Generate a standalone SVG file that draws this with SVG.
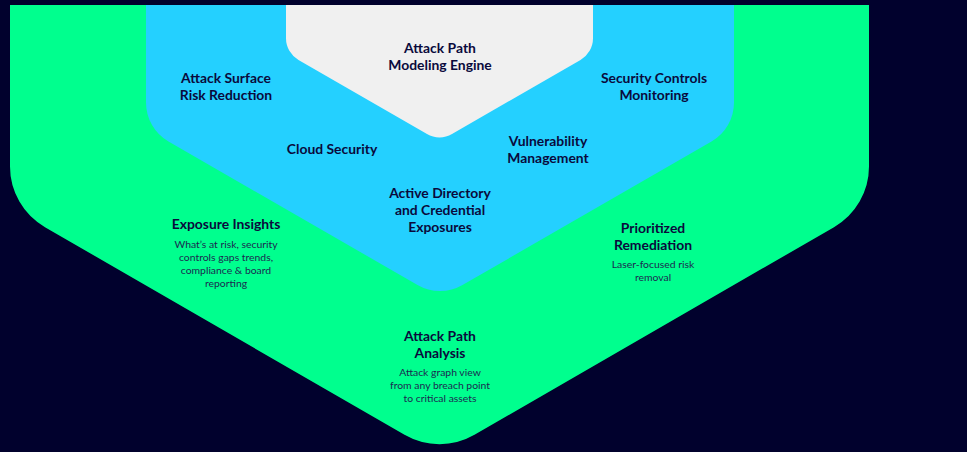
<svg xmlns="http://www.w3.org/2000/svg" width="967" height="452" viewBox="0 0 967 452">
<style>
.t{font-family:Lato,"Liberation Sans",sans-serif;font-weight:bold;font-size:13.9px;fill:#0a0a3c;text-anchor:middle}
.s{font-family:Lato,"Liberation Sans",sans-serif;font-size:10.4px;fill:#1c2a50;text-anchor:middle}
</style>
<rect width="967" height="452" fill="#01012d"/>
<g id="outer">
<path d="M10,5 H869 V166.6 A70 70 0 0 1 834,227.2 L474.5,434.8 A70 70 0 0 1 404.5,434.8 L45,227.2 A70 70 0 0 1 10,166.6 Z" fill="#00ff8e"/>
</g>
<g id="middle">
<path d="M146,5 H734 V102.5 A45 45 0 0 1 711.5,141.5 L462.5,285 A45 45 0 0 1 417.5,285 L168.5,141.5 A45 45 0 0 1 146,102.5 Z" fill="#24d0ff"/>
</g>
<g id="inner">
<path d="M286,5 H593 V38.3 A25 25 0 0 1 580.5,59.9 L452,134.1 A25 25 0 0 1 427,134.1 L298.5,59.9 A25 25 0 0 1 286,38.3 Z" fill="#f0f0f0"/>
</g>
<g id="connectors"></g>
<g id="engine"><text class="t" x="440" y="53">Attack Path</text><text class="t" x="440" y="70">Modeling Engine</text></g>
<g id="asrr"><text class="t" x="226" y="83">Attack Surface</text><text class="t" x="226" y="100">Risk Reduction</text></g>
<g id="scm"><text class="t" x="654" y="83">Security Controls</text><text class="t" x="654" y="100">Monitoring</text></g>
<g id="cloud"><text class="t" x="332" y="154">Cloud Security</text></g>
<g id="vuln"><text class="t" x="548" y="146">Vulnerability</text><text class="t" x="548" y="163">Management</text></g>
<g id="ad"><text class="t" x="440" y="198">Active Directory</text><text class="t" x="440" y="215">and Credential</text><text class="t" x="440" y="232">Exposures</text></g>
<g id="insights"><text class="t" x="226" y="229">Exposure Insights</text>
<text class="s" x="226" y="248">What’s at risk, security</text><text class="s" x="226" y="261">controls gaps trends,</text><text class="s" x="226" y="274">compliance &amp; board</text><text class="s" x="226" y="287">reporting</text></g>
<g id="remediation"><text class="t" x="653" y="233">Prioritized</text><text class="t" x="653" y="250">Remediation</text>
<text class="s" x="653" y="268">Laser-focused risk</text><text class="s" x="653" y="281">removal</text></g>
<g id="analysis"><text class="t" x="440" y="341">Attack Path</text><text class="t" x="440" y="358">Analysis</text>
<text class="s" x="440" y="376">Attack graph view</text><text class="s" x="440" y="389">from any breach point</text><text class="s" x="440" y="402">to critical assets</text></g>
</svg>
